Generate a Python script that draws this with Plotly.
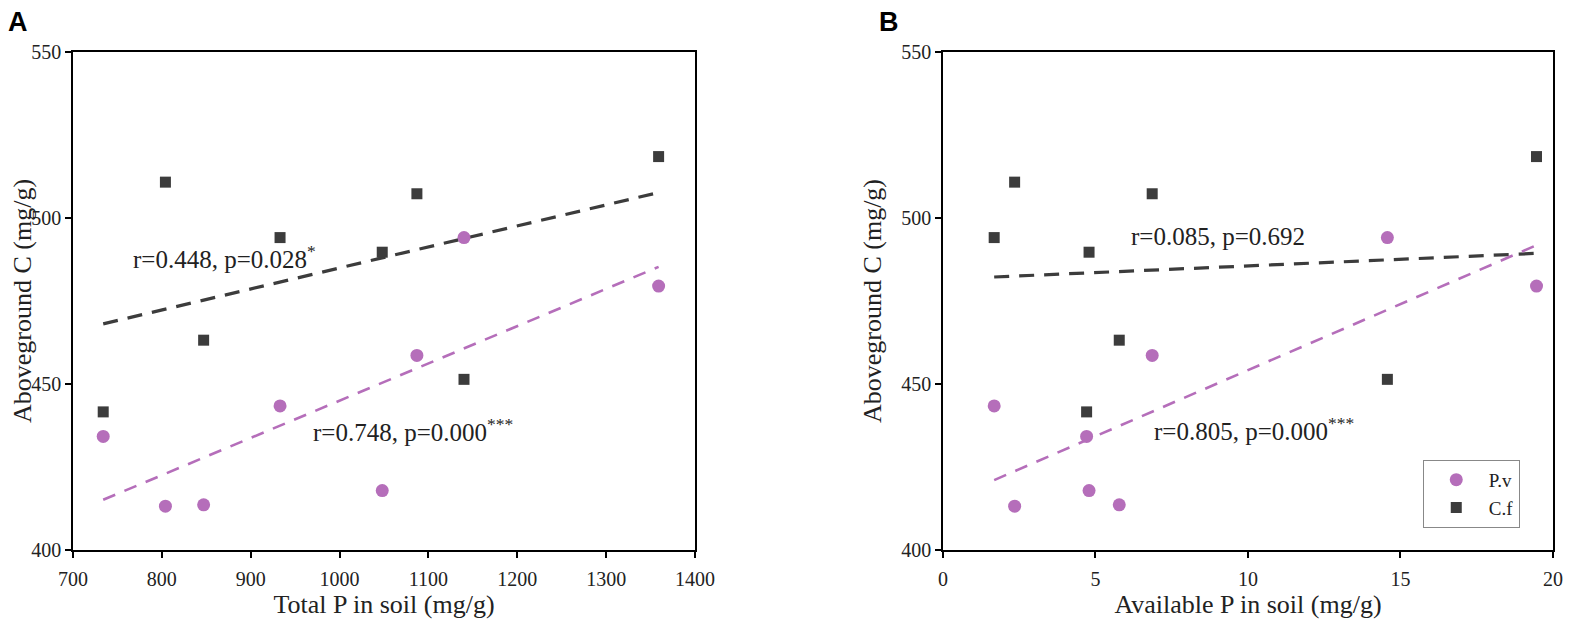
import numpy as np
import plotly.graph_objects as go

# soil P for each of the 8 sites
total_p = [734, 804, 847, 933, 1048, 1087, 1140, 1359]
avail_p = [4.71, 2.35, 5.78, 1.68, 4.79, 6.86, 14.57, 19.46]

# aboveground C (mg/g) of the two species at the same sites
pv_c = [434.2, 413.2, 413.6, 443.4, 417.9, 458.6, 494.1, 479.5]
cf_c = [441.6, 510.8, 463.2, 494.1, 489.7, 507.3, 451.4, 518.5]

stats_a = ["r=0.448, p=0.028<sup>*</sup>", "r=0.748, p=0.000<sup>***</sup>"]
stats_b = ["r=0.085, p=0.692", "r=0.805, p=0.000<sup>***</sup>"]

pink = "rgb(181,110,186)"
dark = "rgb(60,60,60)"
txt = "#222222"
serif = "Liberation Serif"


def fit_line(x, y):
    k, b = np.polyfit(x, y, 1)
    xs = np.array([min(x), max(x)])
    return xs, k * xs + b


fig = go.Figure()

for xvals, xa, ya, show in [(total_p, "x", "y", False), (avail_p, "x2", "y2", True)]:
    xs, ys = fit_line(xvals, cf_c)
    fig.add_trace(go.Scatter(x=xs, y=ys, mode="lines", xaxis=xa, yaxis=ya, showlegend=False,
                             line=dict(color=dark, width=3.2, dash="15px,10px"), hoverinfo="skip"))
    xs, ys = fit_line(xvals, pv_c)
    fig.add_trace(go.Scatter(x=xs, y=ys, mode="lines", xaxis=xa, yaxis=ya, showlegend=False,
                             line=dict(color=pink, width=2.6, dash="13px,10px"), hoverinfo="skip"))
    fig.add_trace(go.Scatter(x=xvals, y=pv_c, mode="markers", name="P.v", xaxis=xa, yaxis=ya,
                             showlegend=show, marker=dict(symbol="circle", size=13, color=pink)))
    fig.add_trace(go.Scatter(x=xvals, y=cf_c, mode="markers", name="C.f", xaxis=xa, yaxis=ya,
                             showlegend=show, marker=dict(symbol="square", size=11, color=dark)))

axis_common = dict(showline=True, mirror=True, linecolor="black", linewidth=1.5,
                   ticks="outside", ticklen=6, tickwidth=1.5, tickcolor="black",
                   showgrid=False, zeroline=False, automargin=False,
                   tickfont=dict(family=serif, size=20, color=txt))
title_font = dict(family=serif, size=26, color=txt)

fig.update_layout(
    width=1572, height=620,
    margin=dict(l=65, r=27, t=44, b=78),
    plot_bgcolor="white", paper_bgcolor="white",
    xaxis=dict(axis_common, domain=[0, 0.4203], range=[700, 1400], dtick=100, ticklabelstandoff=4,
               title=dict(text="Total P in soil (mg/g)", font=title_font, standoff=4)),
    yaxis=dict(axis_common, domain=[0, 1], range=[400, 550], dtick=50,
               title=dict(text="Aboveground C (mg/g)", font=title_font, standoff=12)),
    xaxis2=dict(axis_common, domain=[0.5878, 1], range=[0, 20], dtick=5, anchor="y2", ticklabelstandoff=4,
                title=dict(text="Available P in soil (mg/g)", font=title_font, standoff=4)),
    yaxis2=dict(axis_common, domain=[0, 1], range=[400, 550], dtick=50, anchor="x2",
                title=dict(text="Aboveground C (mg/g)", font=title_font, standoff=12)),
    legend=dict(x=0.912, y=0.181, xanchor="left", yanchor="top", bgcolor="white",
                itemwidth=55, bordercolor="#888888", borderwidth=1,
                font=dict(family=serif, size=19, color=txt)),
)

ann_font = dict(family=serif, size=25, color=txt)
fig.add_annotation(x=765, y=488.3, xref="x", yref="y", text=stats_a[0], showarrow=False,
                   xanchor="left", yanchor="middle", font=ann_font)
fig.add_annotation(x=968, y=436, xref="x", yref="y", text=stats_a[1], showarrow=False,
                   xanchor="left", yanchor="middle", font=ann_font)
fig.add_annotation(x=6.1, y=494.3, xref="x2", yref="y2", text=stats_b[0], showarrow=False,
                   xanchor="left", yanchor="middle", font=ann_font)
fig.add_annotation(x=6.86, y=436.4, xref="x2", yref="y2", text=stats_b[1], showarrow=False,
                   xanchor="left", yanchor="middle", font=ann_font)

# panel letters
letter_font = dict(family="Liberation Sans", size=27, color="black", weight="bold")
fig.add_annotation(x=-0.045, y=1.095, xref="paper", yref="paper", text="A", showarrow=False,
                   font=letter_font, xanchor="left", yanchor="top")
fig.add_annotation(x=0.543, y=1.095, xref="paper", yref="paper", text="B", showarrow=False,
                   font=letter_font, xanchor="left", yanchor="top")

fig.write_html("out.html", config={"displayModeBar": False})
